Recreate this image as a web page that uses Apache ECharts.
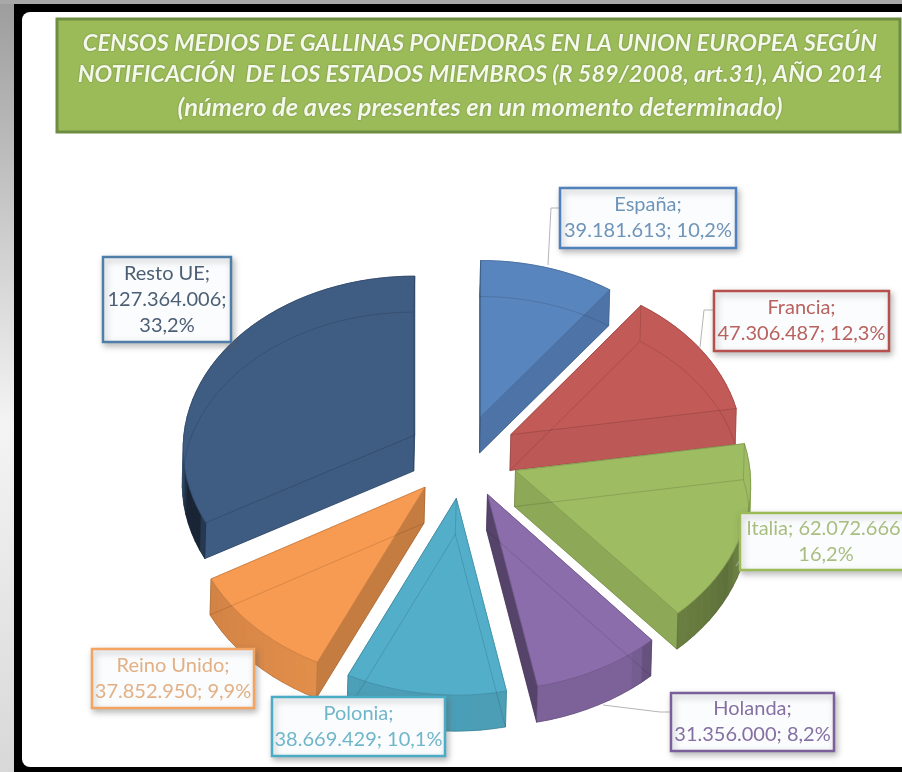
<!DOCTYPE html>
<html><head><meta charset="utf-8">
<style>html,body{margin:0;padding:0;background:#fff;overflow:hidden}#c{width:902px;height:772px}</style>
<script src="https://cdn.jsdelivr.net/npm/echarts@6/dist/echarts.min.js"></script>
</head><body><div id="c"></div>
<script>
const categories = ['España','Francia','Italia','Holanda','Polonia','Reino Unido','Resto UE'];
const hens = [39181613,47306487,62072666,31356000,38669429,37852950,127364006];
const titleLines = [
 'CENSOS MEDIOS DE GALLINAS PONEDORAS EN LA UNION EUROPEA SEGÚN',
 'NOTIFICACIÓN  DE LOS ESTADOS MIEMBROS (R 589/2008, art.31), AÑO 2014',
 '(número de aves presentes en un momento determinado)'];
const colors = ['#5985BF','#C25B58','#9EBC62','#8A6DAA','#53AEC9','#F79B52','#3F5C82'];
const textColors = ['#6E94B8','#B8625F','#A8BE80','#8470A2','#70B6CB','#E2B084','#4C5F74'];
const borders = ['#4F81BD','#B5504D','#9BBB59','#7A5F9A','#4BACC6','#F3A462','#4F7FA8'];
const boxes = [[560,188,176,60],[714,291,175,60],[740,513,172,57],[671,693,163,58],[272,697,173,59],[92,649,162,59],[103,257,128,85]];
const leaders = [[[548,265],[551,208],[560,208]],[[700,347],[704,310],[714,310]],[[736,566],[740,560]],[[603,705],[660,712],[671,712]],null,null,null];
const labelBreaks = [null,null,'Italia',null,null,null,'Resto'];

const CX=463, CY=456, RX=233, RY=174.5, K=0.078, EXPLODE=0.24, DEPTH=36;
const total = hens.reduce((a,b)=>a+b,0);
const fmt = v => String(v).replace(/\B(?=(\d{3})+$)/g,'.');
const pct = v => (v/total*100).toFixed(1).replace('.',',')+'%';
function labelText(i){
  const n=categories[i], v=fmt(hens[i]), p=pct(hens[i]);
  if(labelBreaks[i]==='Italia') return `${n}; ${v};\n${p}`;
  if(labelBreaks[i]==='Resto') return `${n};\n${v};\n${p}`;
  return `${n};\n${v}; ${p}`;
}
function proj(eu,ev,su,sv,z){const v=ev+sv,f=1/(1-K*v);return [CX+RX*(eu+su*f)-(z?1:0), CY+RY*v*f+(z?DEPTH:0)];}
const cutStops=[[0,.95],[79,.96],[115,.8],[127,.88],[151,1],[171,.97],[229,.9],[259,.62],[360,.9]];
const outerStops=[[0,.97],[81,.97],[100,.9],[120,.6],[139,.68],[145,.9],[205,.92],[240,.85],[244,.4],[255,.4],[262,.8],[268,.95],[360,.97]];
function shade(stops,phi){phi=(phi+360)%360;for(let i=1;i<stops.length;i++){if(phi<=stops[i][0]){const a=stops[i-1],b=stops[i];return a[1]+(b[1]-a[1])*(phi-a[0])/(b[0]-a[0]);}}return .9;}
function dark(hex,f){const n=parseInt(hex.slice(1),16);return `rgb(${(n>>16)*f|0},${((n>>8)&255)*f|0},${(n&255)*f|0})`;}
const area=p=>{let s=0;for(let i=0;i<p.length;i++){const a=p[i],b=p[(i+1)%p.length];s+=a[0]*b[1]-b[0]*a[1];}return s/2;};

function renderSlice(params,api){
  const i=params.dataIndex, val=api.value(0);
  let start=0;for(let j=0;j<i;j++)start+=hens[j];
  const t0=start/total*2*Math.PI, t1=(start+val)/total*2*Math.PI, mid=(t0+t1)/2;
  const eu=EXPLODE*Math.sin(mid), ev=-EXPLODE*Math.cos(mid);
  const N=Math.max(6,Math.ceil((t1-t0)/(Math.PI/60)));
  const arc=[];for(let k=0;k<=N;k++){const t=t0+(t1-t0)*k/N;arc.push([Math.sin(t),-Math.cos(t),t]);}
  const topA=proj(eu,ev,0,0,0), botA=proj(eu,ev,0,0,1);
  const topArc=arc.map(a=>proj(eu,ev,a[0],a[1],0)), botArc=arc.map(a=>proj(eu,ev,a[0],a[1],1));
  const col=colors[i], back=[], front=[];
  const addWall=(poly,f)=>{
    const el={type:'polygon',shape:{points:poly},style:{fill:dark(col,f),stroke:dark(col,f),lineWidth:.5}};
    (area(poly)>0?front:back).push(el);
  };
  addWall([topArc[0],topA,botA,botArc[0]],shade(cutStops,t0*180/Math.PI-90));
  addWall([topA,topArc[N],botArc[N],botA],shade(cutStops,t1*180/Math.PI+90));
  for(let k=0;k<N;k++){
    const tm=(arc[k][2]+arc[k+1][2])/2*180/Math.PI;
    addWall([topArc[k+1],topArc[k],botArc[k],botArc[k+1]],shade(outerStops,tm));
  }
  const top=[topA,...topArc], bot=[botA,...botArc];
  const edge='rgba(0,0,0,0.13)';
  return {type:'group',children:[
    ...back,
    {type:'polygon',shape:{points:bot},style:{fill:dark(col,.9)}},
    ...front,
    {type:'polygon',shape:{points:top},style:{fill:col,stroke:dark(col,.82),lineWidth:.8}},
    {type:'polyline',shape:{points:[...bot,botA]},style:{fill:'none',stroke:edge,lineWidth:1}},
    {type:'line',shape:{x1:topArc[0][0],y1:topArc[0][1],x2:botArc[0][0],y2:botArc[0][1]},style:{stroke:edge,lineWidth:1}},
    {type:'line',shape:{x1:topArc[N][0],y1:topArc[N][1],x2:botArc[N][0],y2:botArc[N][1]},style:{stroke:edge,lineWidth:1}},
    {type:'line',shape:{x1:topA[0],y1:topA[1],x2:botA[0],y2:botA[1]},style:{stroke:edge,lineWidth:1}}
  ]};
}
function renderLabel(params,api){
  const i=params.dataIndex, b=boxes[i], ch=[];
  if(leaders[i]) ch.push({type:'polyline',shape:{points:leaders[i]},style:{fill:'none',stroke:'#b5b5b5',lineWidth:1}});
  ch.push({type:'rect',shape:{x:b[0],y:b[1],width:b[2],height:b[3]},
    style:{fill:'#fbfcfd',stroke:borders[i],lineWidth:2.5,shadowBlur:6,shadowOffsetX:2,shadowOffsetY:3,shadowColor:'rgba(90,90,90,.4)'}});
  ch.push({type:'text',x:b[0]+b[2]/2,y:b[1]+b[3]/2,style:{text:labelText(i),fill:textColors[i],font:'20px Lato, sans-serif',lineHeight:26,align:'center',verticalAlign:'middle'}});
  return {type:'group',children:ch};
}
const rows=hens.map((v,i)=>({name:categories[i],value:[v]}));
const chart=echarts.init(document.getElementById('c'),null,{renderer:'canvas'});
chart.setOption({
  animation:false,
  title:{text:`{a|${titleLines[0]}}\n{a|${titleLines[1]}}\n{b|${titleLines[2]}}`,left:475,top:23,textAlign:'center',z:5,
    textStyle:{rich:{
      a:{color:'#F4F8EA',fontSize:23.5,fontStyle:'italic',fontWeight:'bold',fontFamily:'Lato, sans-serif',lineHeight:31,textShadowColor:'rgba(60,80,20,.55)',textShadowBlur:2},
      b:{color:'#F4F8EA',fontSize:25.5,fontStyle:'italic',fontWeight:'bold',fontFamily:'Lato, sans-serif',lineHeight:35,textShadowColor:'rgba(60,80,20,.55)',textShadowBlur:2}
    }}},
  graphic:[
    {type:'rect',z:-5,shape:{x:0,y:0,width:902,height:772},style:{fill:'#000'}},
    {type:'rect',z:-4,shape:{x:0,y:0,width:14,height:772},style:{fill:new echarts.graphic.LinearGradient(0,0,0,1,[{offset:0,color:'#9d9d9d'},{offset:.55,color:'#f4f4f4'},{offset:1,color:'#d8d8d8'}])}},
    {type:'rect',z:-4,shape:{x:0,y:0,width:902,height:4},style:{fill:'#a8a8a8'}},
    {type:'rect',z:-3,shape:{x:22,y:12,width:900,height:755,r:8},style:{fill:'#fff'}},
    {type:'rect',z:-2,shape:{x:57,y:19,width:843,height:113},style:{fill:'#9BBB59',stroke:'#6F8D42',lineWidth:3}}
  ],
  series:[
    {type:'custom',coordinateSystem:'none',name:'Gallinas',data:rows,renderItem:renderSlice,z:2,silent:true},
    {type:'custom',coordinateSystem:'none',name:'Etiquetas',data:rows,renderItem:renderLabel,z:3,silent:true}
  ]
});
</script></body></html>
